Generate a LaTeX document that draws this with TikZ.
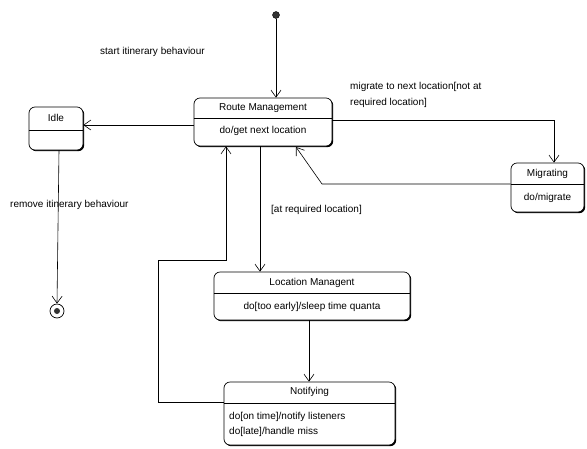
\documentclass[tikz,border=0pt]{standalone}
\usepackage{fontspec}
\setmainfont{Liberation Sans}
\usetikzlibrary{arrows.meta,shadows}
\begin{document}
\begin{tikzpicture}[x=1pt,y=-1pt,
  font=\fontsize{10}{12}\selectfont,
  statebox/.style={draw,line width=0.7pt,rounded corners=6pt,fill=white,inner sep=0pt,
    drop shadow={shadow xshift=1.2pt,shadow yshift=-1.2pt,fill=black,opacity=1}},
  lbl/.style={inner sep=0pt,anchor=west},
  ctr/.style={inner sep=0pt},
  conn/.style={line width=0.6pt,-{Straight Barb[length=7pt,width=10pt]}},
  plain/.style={line width=0.6pt}]
\useasboundingbox (0,0) rectangle (587,448);
% initial and final
\node[circle,fill=black!80,draw=black,minimum size=7pt,inner sep=0pt] (init) at (276,15) {};
\node[circle,draw=black,line width=0.7pt,minimum size=14pt,inner sep=0pt] (fin) at (57,311) {};
\node[circle,fill=black!80,minimum size=6pt,inner sep=0pt] (finin) at (57,311) {};
% states
\node[statebox,minimum width=138pt,minimum height=48pt] (rm) at (263,122) {};
\draw[plain] (rm.west |- 0,118) -- (rm.east |- 0,118);
\node[ctr] (rmt) at (263,108) {Route Management};
\node[ctr] (rmb) at (263,131) {do/get next location};

\node[statebox,minimum width=54pt,minimum height=43pt] (idle) at (56,128.5) {};
\draw[plain] (idle.west |- 0,130) -- (idle.east |- 0,130);
\node[ctr] (idlet) at (56,118) {Idle};

\node[statebox,minimum width=73pt,minimum height=49pt] (mig) at (547.5,187.5) {};
\draw[plain] (mig.west |- 0,184) -- (mig.east |- 0,184);
\node[ctr] (migt) at (547.5,174) {Migrating};
\node[ctr] (migb) at (547.5,198) {do/migrate};

\node[statebox,minimum width=196pt,minimum height=48pt] (loc) at (312,296) {};
\draw[plain] (loc.west |- 0,293) -- (loc.east |- 0,293);
\node[ctr] (loct) at (312,283) {Location Managent};
\node[ctr] (locb) at (312,307) {do[too early]/sleep time quanta};

\node[statebox,minimum width=171pt,minimum height=63pt] (not) at (309.5,413.5) {};
\draw[plain] (not.west |- 0,403) -- (not.east |- 0,403);
\node[ctr] (nott) at (309.5,392) {Notifying};
\node[lbl] (notb1) at (229,417) {do[on time]/notify listeners};
\node[lbl] (notb2) at (229,432) {do[late]/handle miss};

% labels
\node[lbl] (l1) at (100,52) {start itinerary behaviour};
\node[lbl] (l2) at (10,205) {remove itinerary behaviour};
\node[lbl] (l3) at (350,87) {migrate to next location[not at};
\node[lbl] (l3b) at (350,103) {required location]};
\node[lbl] (l4) at (271,210) {[at required location]};

% connectors
\draw[conn] (init) -- (init |- rm.north);
\draw[conn] (rm.west |- 0,125) -- (idle.east |- 0,125);
\draw[conn] (idle.south -| 59,0) -- (fin.north);
\draw[conn] (rm.east |- 0,120) -- (554,120) -- (554,0 |- mig.north);
\coordinate (mbend) at (322,184);
\draw[conn] (mig.west |- 0,184) -- (mbend) -- (296,147);
\draw[conn] (rm.south -| 260,0) -- (loc.north -| 260,0);
\draw[conn] (loc.south -| 309,0) -- (not.north -| 309,0);
\coordinate (lp1) at (158,402);
\coordinate (lp2) at (158,260);
\coordinate (lp3) at (226,260);
\draw[conn] (not.west |- 0,402) -- (lp1) -- (lp2) -- (lp3) -- (rm.south -| 226,0);
\end{tikzpicture}
\end{document}
